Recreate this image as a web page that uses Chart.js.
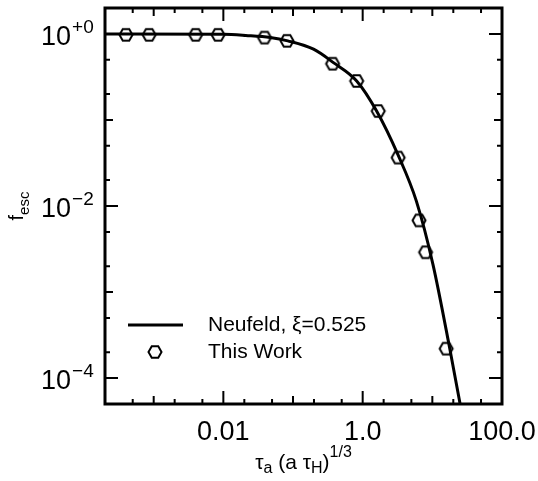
<!DOCTYPE html>
<html>
<head>
<meta charset="utf-8">
<script src="https://cdn.jsdelivr.net/npm/chart.js@4.4.0/dist/chart.umd.min.js"></script>
<style>
  html, body { margin: 0; padding: 0; background: #fff; }
  #wrap { width: 538px; height: 481px; }
</style>
</head>
<body>
<div id="wrap"><canvas id="chart" width="538" height="481"></canvas></div>
<script>
// Neufeld curve
const curveX = [0.0002, 0.01, 0.021, 0.047, 0.084, 0.197, 0.38, 0.82, 1.585, 3.23, 5.9, 10.2, 17.7, 25.4];
const curveY = [1.0, 0.99, 0.96, 0.91, 0.83, 0.664, 0.464, 0.284, 0.127, 0.039, 0.0114, 0.0021, 0.000225, 0.000047];

// "This Work" points
const workX = [0.0004, 0.00086, 0.004, 0.0084, 0.039, 0.082, 0.37, 0.82, 1.67, 3.23, 6.44, 8.0, 15.8];
const workY = [0.975, 0.975, 0.975, 0.975, 0.906, 0.83, 0.45, 0.284, 0.127, 0.0365, 0.0068, 0.0029, 0.00022];

// ticks: 1-2-5 per decade, labels every second decade
const xTicks = [0.0005, 0.001, 0.002, 0.005, 0.01, 0.02, 0.05, 0.1, 0.2, 0.5, 1, 2, 5, 10, 20, 50];
const xLabelValues = [0.01, 1, 100];
const xLabelTexts = ['0.01', '1.0', '100.0'];
const yTicks = [0.0001, 0.0002, 0.0005, 0.001, 0.002, 0.005, 0.01, 0.02, 0.05, 0.1, 0.2, 0.5, 1];
const yLabelValues = [1, 0.01, 0.0001];
const yLabelExps = ['+0', '\u22122', '\u22124'];

const FONT = '"Liberation Sans", Arial, sans-serif';

function makeHexagon() {
    const c = document.createElement('canvas');
    c.width = 18;
    c.height = 16;
    const g = c.getContext('2d');
    g.strokeStyle = '#000';
    g.lineWidth = 2;
    g.beginPath();
    for (let i = 0; i < 6; i++) {
        const a = Math.PI / 3 * i;
        const px = 9 + 6.5 * Math.cos(a);
        const py = 8 + 6.5 * Math.sin(a);
        if (i === 0) g.moveTo(px, py); else g.lineTo(px, py);
    }
    g.closePath();
    g.stroke();
    return c;
}
const hexagon = makeHexagon();

function tickLength(v, labelled) {
    if (labelled.some(l => Math.abs(l - v) / l < 1e-6)) return 13;
    const e = Math.log10(v);
    if (Math.abs(e - Math.round(e)) < 1e-6) return 8;
    return 5;
}

const framePlugin = {
    id: 'frame',
    afterDraw(chart) {
        const { ctx, chartArea: a, scales: { x, y } } = chart;
        ctx.save();
        ctx.strokeStyle = '#000';
        ctx.fillStyle = '#000';
        ctx.lineCap = 'butt';

        // inward ticks on all four sides
        ctx.lineWidth = 2;
        ctx.beginPath();
        xTicks.forEach(v => {
            const px = x.getPixelForValue(v);
            const len = tickLength(v, xLabelValues);
            ctx.moveTo(px, a.bottom); ctx.lineTo(px, a.bottom - len);
            ctx.moveTo(px, a.top); ctx.lineTo(px, a.top + len);
        });
        yTicks.forEach(v => {
            const py = y.getPixelForValue(v);
            const len = tickLength(v, yLabelValues);
            ctx.moveTo(a.left, py); ctx.lineTo(a.left + len, py);
            ctx.moveTo(a.right, py); ctx.lineTo(a.right - len, py);
        });
        ctx.stroke();

        // frame
        ctx.lineWidth = 3;
        ctx.strokeRect(a.left, a.top, a.width, a.height);

        // x tick labels
        ctx.font = '27px ' + FONT;
        ctx.textAlign = 'center';
        ctx.textBaseline = 'alphabetic';
        xLabelValues.forEach((v, i) => {
            ctx.fillText(xLabelTexts[i], x.getPixelForValue(v), a.bottom + 36);
        });

        // y tick labels with exponents
        ctx.textAlign = 'left';
        yLabelValues.forEach((v, i) => {
            const py = y.getPixelForValue(v);
            ctx.font = '27px ' + FONT;
            ctx.fillText('10', 41, py + 11);
            const w = ctx.measureText('10').width;
            ctx.font = '19px ' + FONT;
            ctx.fillText(yLabelExps[i], 41 + w + 1, py - 1);
        });

        // x title: tau_a (a tau_H)^1/3
        const parts = [
            ['\u03c4', 21, 0], ['a', 16, 4], [' (a \u03c4', 21, 0], ['H', 16, 4], [')', 21, 0], ['1/3', 16, -12]
        ];
        let total = 0;
        parts.forEach(p => { ctx.font = p[1] + 'px ' + FONT; total += ctx.measureText(p[0]).width; });
        let cx = (a.left + a.right) / 2 - total / 2;
        parts.forEach(p => {
            ctx.font = p[1] + 'px ' + FONT;
            ctx.fillText(p[0], cx, 469 + p[2]);
            cx += ctx.measureText(p[0]).width;
        });

        // y title: f_esc
        ctx.save();
        ctx.translate(23, (a.top + a.bottom) / 2);
        ctx.rotate(-Math.PI / 2);
        ctx.font = '20px ' + FONT;
        const fw = ctx.measureText('f').width;
        ctx.font = '15px ' + FONT;
        const ew = ctx.measureText('esc').width;
        const tx = -(fw + ew) / 2;
        ctx.font = '20px ' + FONT;
        ctx.fillText('f', tx, 0);
        ctx.font = '15px ' + FONT;
        ctx.fillText('esc', tx + fw, 6);
        ctx.restore();

        // legend
        const ds = chart.data.datasets;
        ctx.lineWidth = 3;
        ctx.beginPath();
        ctx.moveTo(128, 325); ctx.lineTo(183, 325);
        ctx.stroke();
        ctx.drawImage(hexagon, 155 - hexagon.width / 2, 352 - hexagon.height / 2);
        ctx.font = '21px ' + FONT;
        ctx.textBaseline = 'middle';
        ctx.fillText(ds[0].label, 208, 325);
        ctx.fillText(ds[1].label, 208, 352);

        ctx.restore();
    }
};

const ctx = document.getElementById('chart').getContext('2d');
new Chart(ctx, {
    type: 'line',
    data: {
        datasets: [{
            label: 'Neufeld, \u03be=0.525',
            data: curveX.map((v, i) => ({ x: v, y: curveY[i] })),
            borderColor: '#000',
            borderWidth: 3,
            pointRadius: 0,
            cubicInterpolationMode: 'monotone',
            fill: false
        }, {
            label: 'This Work',
            data: workX.map((v, i) => ({ x: v, y: workY[i] })),
            showLine: false,
            pointStyle: hexagon,
            pointRadius: 7
        }]
    },
    options: {
        responsive: false,
        animation: false,
        layout: { padding: { top: 8, right: 36, left: 0, bottom: 0 } },
        plugins: {
            legend: { display: false },
            tooltip: { enabled: false }
        },
        scales: {
            x: {
                type: 'logarithmic',
                min: 0.0002,
                max: 100,
                ticks: { display: false },
                grid: { display: false },
                border: { display: false },
                afterFit(s) { s.height = 77; }
            },
            y: {
                type: 'logarithmic',
                min: 0.00005,
                max: 2,
                ticks: { display: false },
                grid: { display: false },
                border: { display: false },
                afterFit(s) { s.width = 105; }
            }
        }
    },
    plugins: [framePlugin]
});
</script>
</body>
</html>
